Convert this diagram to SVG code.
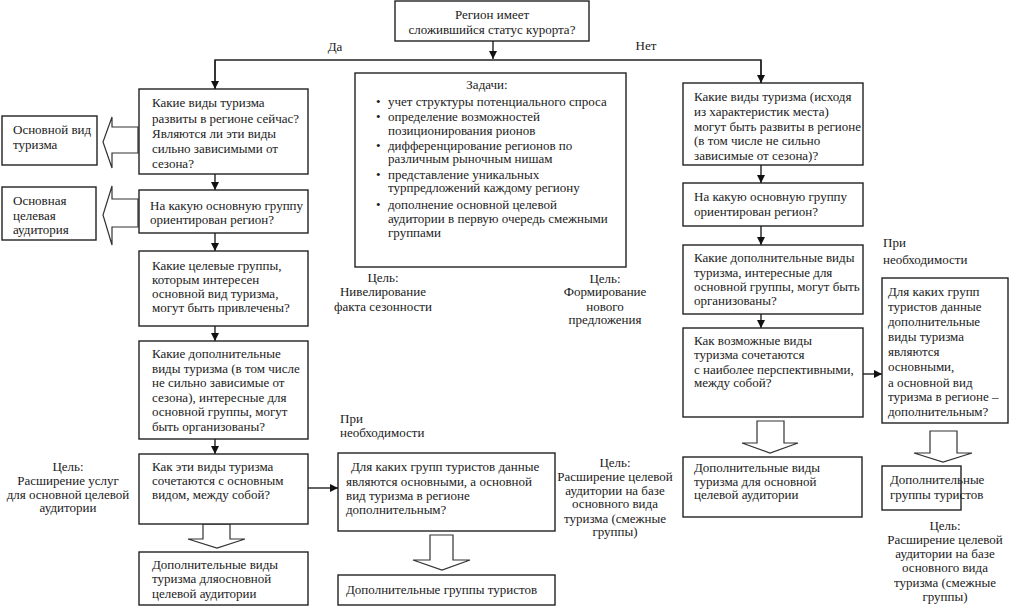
<svg xmlns="http://www.w3.org/2000/svg" width="1021" height="607" viewBox="0 0 1021 607">
<defs>
<style>
rect.b{fill:#fff;stroke:#222;stroke-width:1.4}
text{font-family:"Liberation Serif","Times New Roman",serif;font-size:13px;fill:#1a1a1a}
.c{text-anchor:middle}
.ln{stroke:#222;stroke-width:1.4;fill:none}
.blk{fill:#fff;stroke:#333;stroke-width:1.2}
</style>
<marker id="ah" viewBox="0 0 10 10" refX="10" refY="5" markerWidth="8" markerHeight="8" markerUnits="userSpaceOnUse" orient="auto">
<path d="M0,0 L10,5 L0,10 z" fill="#111"/>
</marker>
</defs>
<rect width="1021" height="607" fill="#fff"/>

<g id="connectors">
<line class="ln" x1="493" y1="41" x2="493" y2="59" marker-end="url(#ah)"/>
<polyline class="ln" points="215,89 215,60 761,60 761,83"/>
<line class="ln" x1="215" y1="60" x2="215" y2="89" marker-end="url(#ah)"/>
<line class="ln" x1="761" y1="60" x2="761" y2="83" marker-end="url(#ah)"/>
<line class="ln" x1="215" y1="174" x2="215" y2="190" marker-end="url(#ah)"/>
<line class="ln" x1="215" y1="233" x2="215" y2="251" marker-end="url(#ah)"/>
<line class="ln" x1="215" y1="326" x2="215" y2="341" marker-end="url(#ah)"/>
<line class="ln" x1="215" y1="439" x2="215" y2="454" marker-end="url(#ah)"/>
<line class="ln" x1="308" y1="488" x2="338" y2="488" marker-end="url(#ah)"/>
<line class="ln" x1="761" y1="165" x2="761" y2="183" marker-end="url(#ah)"/>
<line class="ln" x1="761" y1="226" x2="761" y2="245" marker-end="url(#ah)"/>
<line class="ln" x1="761" y1="314" x2="761" y2="328" marker-end="url(#ah)"/>
<line class="ln" x1="863" y1="374" x2="882" y2="374" marker-end="url(#ah)"/>
<polygon class="blk" points="138,127 112,127 112,117 103,142 112,168 112,153 138,153"/>
<polygon class="blk" points="138,199 112,199 112,186 103,215 112,245 112,227 138,227"/>
<polygon class="blk" points="203,524 230,524 230,539 245,539 217,548 188,539 203,539"/>
<polygon class="blk" points="430,535 453,535 453,560 470,560 442,570 413,560 430,560"/>
<polygon class="blk" points="757,421 784,421 784,443 798,443 770,453 742,443 757,443"/>
<polygon class="blk" points="930,431 957,431 957,453 972,453 943,462 914,453 930,453"/>
</g>

<g id="n-top">
<rect class="b" x="395" y="1" width="194" height="40"/>
<text class="c" x="492" y="19">Регион имеет</text>
<text class="c" x="492" y="34">сложившийся статус курорта?</text>
</g>
<g id="lbl-da"><text class="c" x="335" y="51">Да</text></g>
<g id="lbl-net"><text class="c" x="646" y="50">Нет</text></g>

<g id="n-l1">
<rect class="b" x="139" y="89" width="169" height="85"/>
<text x="152" y="107">Какие виды туризма</text>
<text x="152" y="123">развиты в регионе сейчас?</text>
<text x="152" y="138">Являются ли эти виды</text>
<text x="152" y="153">сильно зависимыми от</text>
<text x="152" y="168">сезона?</text>
</g>
<g id="n-l2">
<rect class="b" x="139" y="190" width="169" height="43"/>
<text x="150" y="210">На какую основную группу</text>
<text x="150" y="224">ориентирован регион?</text>
</g>
<g id="n-l3">
<rect class="b" x="139" y="251" width="169" height="75"/>
<text x="152" y="270">Какие целевые группы,</text>
<text x="152" y="284">которым интересен</text>
<text x="152" y="298">основной вид туризма,</text>
<text x="152" y="312">могут быть привлечены?</text>
</g>
<g id="n-l4">
<rect class="b" x="139" y="341" width="169" height="98"/>
<text x="152" y="358">Какие дополнительные</text>
<text x="152" y="372.5">виды туризма (в том числе</text>
<text x="152" y="387">не сильно зависимые от</text>
<text x="152" y="401.5">сезона), интересные для</text>
<text x="152" y="416">основной группы, могут</text>
<text x="152" y="430.5">быть организованы?</text>
</g>
<g id="n-l5">
<rect class="b" x="139" y="454" width="169" height="70"/>
<text x="152" y="471">Как эти виды туризма</text>
<text x="152" y="485">сочетаются с основным</text>
<text x="152" y="499">видом, между собой?</text>
</g>
<g id="n-l6">
<rect class="b" x="139" y="552" width="169" height="53"/>
<text x="152" y="569">Дополнительные виды</text>
<text x="152" y="583">туризма дляосновной</text>
<text x="152" y="598">целевой аудитории</text>
</g>
<g id="n-lb1">
<rect class="b" x="2" y="116" width="95" height="49"/>
<text x="13" y="134">Основной вид</text>
<text x="13" y="149">туризма</text>
</g>
<g id="n-lb2">
<rect class="b" x="2" y="187" width="94" height="53"/>
<text x="13" y="205">Основная</text>
<text x="13" y="220">целевая</text>
<text x="13" y="234">аудитория</text>
</g>
<g id="goal-left">
<text class="c" x="68" y="471">Цель:</text>
<text class="c" x="68" y="485">Расширение услуг</text>
<text class="c" x="68" y="499">для основной целевой</text>
<text class="c" x="68" y="512">аудитории</text>
</g>

<g id="n-tasks">
<rect class="b" x="355" y="73" width="271" height="194"/>
<text class="c" x="487" y="89">Задачи:</text>
<text x="376" y="106">•</text>
<text x="388" y="106">учет структуры потенциального спроса</text>
<text x="376" y="121">•</text>
<text x="388" y="121">определение возможностей</text>
<text x="388" y="135">позиционирования рионов</text>
<text x="376" y="150">•</text>
<text x="388" y="150">дифференцирование регионов по</text>
<text x="388" y="163">различным рыночным нишам</text>
<text x="376" y="179">•</text>
<text x="388" y="179">представление уникальных</text>
<text x="388" y="192">турпредложений каждому региону</text>
<text x="376" y="209">•</text>
<text x="388" y="209">дополнение основной целевой</text>
<text x="388" y="223">аудитории в первую очередь смежными</text>
<text x="388" y="237">группами</text>
</g>
<g id="goal-season">
<text class="c" x="383" y="282">Цель:</text>
<text class="c" x="383" y="296">Нивелирование</text>
<text class="c" x="383" y="311">факта сезонности</text>
</g>
<g id="goal-new">
<text class="c" x="605" y="283">Цель:</text>
<text class="c" x="605" y="296">Формирование</text>
<text class="c" x="605" y="311">нового</text>
<text class="c" x="605" y="324">предложения</text>
</g>

<g id="lbl-need-mid">
<text x="340" y="423">При</text>
<text x="340" y="437">необходимости</text>
</g>
<g id="n-m1">
<rect class="b" x="338" y="453" width="217" height="78"/>
<text x="351" y="471">Для каких групп туристов данные</text>
<text x="346" y="486">являются основными, а основной</text>
<text x="346" y="500">вид туризма в регионе</text>
<text x="346" y="514">дополнительным?</text>
</g>
<g id="n-m2">
<rect class="b" x="338" y="575" width="217" height="30"/>
<text x="346" y="594">Дополнительные группы туристов</text>
</g>

<g id="n-r1">
<rect class="b" x="683" y="83" width="180" height="82"/>
<text x="694" y="101">Какие виды туризма (исходя</text>
<text x="694" y="116">из характеристик места)</text>
<text x="694" y="131">могут быть развиты в регионе</text>
<text x="694" y="145">(в том числе не сильно</text>
<text x="694" y="160">зависимые от сезона)?</text>
</g>
<g id="n-r2">
<rect class="b" x="683" y="183" width="180" height="43"/>
<text x="694" y="201">На какую основную группу</text>
<text x="694" y="216">ориентирован регион?</text>
</g>
<g id="n-r3">
<rect class="b" x="683" y="245" width="180" height="69"/>
<text x="694" y="262">Какие дополнительные виды</text>
<text x="694" y="277">туризма, интересные для</text>
<text x="694" y="291">основной группы, могут быть</text>
<text x="694" y="305">организованы?</text>
</g>
<g id="n-r4">
<rect class="b" x="683" y="328" width="180" height="89"/>
<text x="694" y="345">Как возможные виды</text>
<text x="694" y="359">туризма сочетаются</text>
<text x="694" y="374">с наиболее перспективными,</text>
<text x="694" y="387">между собой?</text>
</g>
<g id="lbl-need-right">
<text x="883" y="247">При</text>
<text x="883" y="264">необходимости</text>
</g>
<g id="n-r5">
<rect class="b" x="882" y="278" width="126" height="145"/>
<text x="888" y="296">Для каких групп</text>
<text x="888" y="311">туристов данные</text>
<text x="888" y="326">дополнительные</text>
<text x="888" y="341">виды туризма</text>
<text x="888" y="356">являются</text>
<text x="888" y="371">основными,</text>
<text x="888" y="387">а основной вид</text>
<text x="888" y="401">туризма в регионе –</text>
<text x="888" y="416">дополнительным?</text>
</g>
<g id="n-r6">
<rect class="b" x="683" y="457" width="179" height="60"/>
<text x="694" y="472">Дополнительные виды</text>
<text x="694" y="486">туризма для основной</text>
<text x="694" y="499">целевой аудитории</text>
</g>
<g id="goal-mid-right">
<text class="c" x="615" y="467">Цель:</text>
<text class="c" x="615" y="481">Расширение целевой</text>
<text class="c" x="615" y="495">аудитории на базе</text>
<text class="c" x="615" y="508">основного вида</text>
<text class="c" x="615" y="523">туризма (смежные</text>
<text class="c" x="615" y="536">группы)</text>
</g>
<g id="n-r7">
<rect class="b" x="882" y="466" width="79" height="44"/>
<text x="890" y="484">Дополнительные</text>
<text x="890" y="499">группы туристов</text>
</g>
<g id="goal-right">
<text class="c" x="945" y="530">Цель:</text>
<text class="c" x="945" y="544">Расширение целевой</text>
<text class="c" x="945" y="558">аудитории на базе</text>
<text class="c" x="945" y="572">основного вида</text>
<text class="c" x="945" y="587">туризма (смежные</text>
<text class="c" x="945" y="601">группы)</text>
</g>
</svg>
